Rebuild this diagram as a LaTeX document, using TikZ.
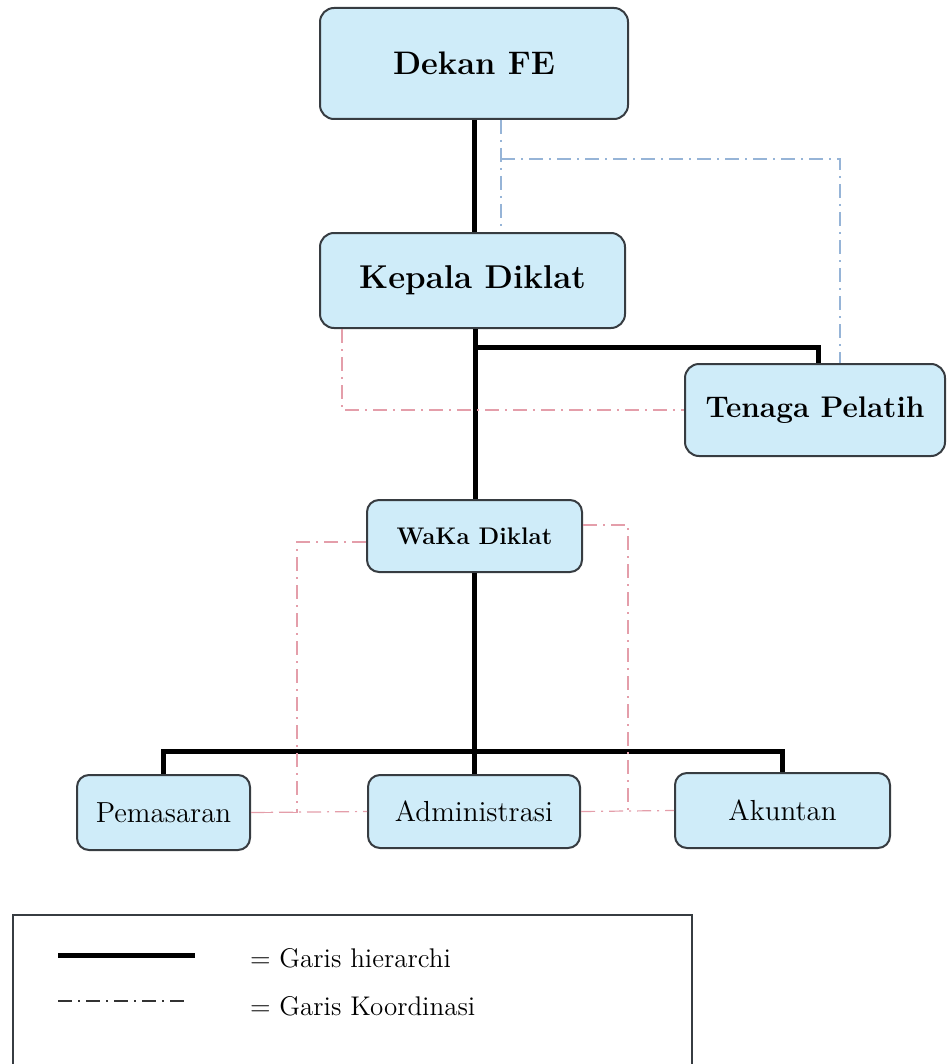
\documentclass[tikz,border=0pt]{standalone}
\usepackage{fontspec}
\usepackage{xcolor}
\usepackage{tikz}

\definecolor{isibox}{RGB}{207,236,249}
\definecolor{garisbox}{RGB}{55,60,65}
\definecolor{koorbiru}{RGB}{150,180,215}
\definecolor{koormerah}{RGB}{228,158,170}

\begin{document}
\begin{tikzpicture}[x=0.5pt,y=-0.5pt,
        jabatan/.style={draw=garisbox, line width=1pt, fill=isibox, rounded corners=7pt, inner sep=0pt, align=center},
        hirarki/.style={black, line width=2.5pt},
        koordinasi/.style={line width=0.6pt, dash pattern=on 7pt off 3pt on 1pt off 3pt}]
        \useasboundingbox (0,0) rectangle (947,1064);
        % kotak jabatan
        \node[jabatan, minimum width=154pt, minimum height=55.5pt, font=\fontsize{16.3}{18}\selectfont\bfseries] (dekan) at (474,63.5) {Dekan FE};
        \node[jabatan, minimum width=152.5pt, minimum height=47.5pt, font=\fontsize{16.5}{18}\selectfont\bfseries] (kepala) at (472.5,280.5) {Kepala Diklat};
        \node[jabatan, minimum width=130pt, minimum height=46pt, font=\fontsize{14.9}{16}\selectfont\bfseries] (pelatih) at (815,410) {Tenaga Pelatih};
        \node[jabatan, rounded corners=6pt, minimum width=107.5pt, minimum height=36pt, font=\fontsize{12}{14}\selectfont\bfseries] (waka) at (474.5,536) {WaKa Diklat};
        \node[jabatan, rounded corners=6pt, minimum width=86.5pt, minimum height=37.5pt, font=\fontsize{14.5}{16}\selectfont] (pemasaran) at (163.5,812.5) {Pemasaran};
        \node[jabatan, rounded corners=6pt, minimum width=106pt, minimum height=36.5pt, font=\fontsize{14.5}{16}\selectfont] (admin) at (474,811.5) {Administrasi};
        \node[jabatan, rounded corners=6pt, minimum width=107.5pt, minimum height=37.5pt, font=\fontsize{14.5}{16}\selectfont] (akuntan) at (782.5,810.5) {Akuntan};
        % garis hirarki
        \coordinate (cabang1) at (475,347);
        \coordinate (cabang2) at (474,751);
        \draw[hirarki] (dekan.south) -- (dekan.south |- kepala.north);
        \draw[hirarki] (kepala.south -| cabang1) -- (waka.north -| cabang1);
        \draw[hirarki] (cabang1) -| ([xshift=1.5pt]pelatih.north);
        \draw[hirarki] (waka.south -| cabang2) -- (admin.north -| cabang2);
        \draw[hirarki] (pemasaran.north) |- (cabang2) -| (akuntan.north);
        % garis koordinasi
        \coordinate (biru1) at (501,159);
        \coordinate (biru2) at (840,159);
        \draw[koordinasi, koorbiru] (dekan.south -| biru1) -- (kepala.north -| biru1);
        \draw[koordinasi, koorbiru] (biru1) -- (biru2) -- (biru2 |- pelatih.north);
        \coordinate (merah1) at (342,410);
        \draw[koordinasi, koormerah] (kepala.south -| merah1) -- (merah1) -- (merah1 -| pelatih.west);
        \coordinate (merah2) at (297,542);
        \draw[koordinasi, koormerah] (waka.west |- merah2) -- (merah2) -- (merah2 |- pemasaran.east) -- (pemasaran.east);
        \draw[koordinasi, koormerah] (pemasaran.east) -- (admin.west);
        \coordinate (merah3) at (628,525);
        \draw[koordinasi, koormerah] (waka.east |- merah3) -- (merah3) -- (merah3 |- admin.east);
        \draw[koordinasi, koormerah] (admin.east) -- (akuntan.west);
        % keterangan
        \draw[garisbox, line width=0.7pt] (13,915) rectangle (692,1090);
        \node[anchor=west, font=\fontsize{13.5}{15}\selectfont] (kethirarki) at (243,958) {= Garis hierarchi};
        \node[anchor=west, font=\fontsize{13.5}{15}\selectfont] (ketkoor) at (243,1006) {= Garis Koordinasi};
        \coordinate (contoh1) at (58,955);
        \coordinate (contoh2) at (58,1001);
        \draw[hirarki] (contoh1) -- (contoh1 -| 195,0);
        \draw[koordinasi, black!80, line width=1pt] (contoh2) -- (contoh2 -| 187,0);
    \end{tikzpicture}
\end{document}
